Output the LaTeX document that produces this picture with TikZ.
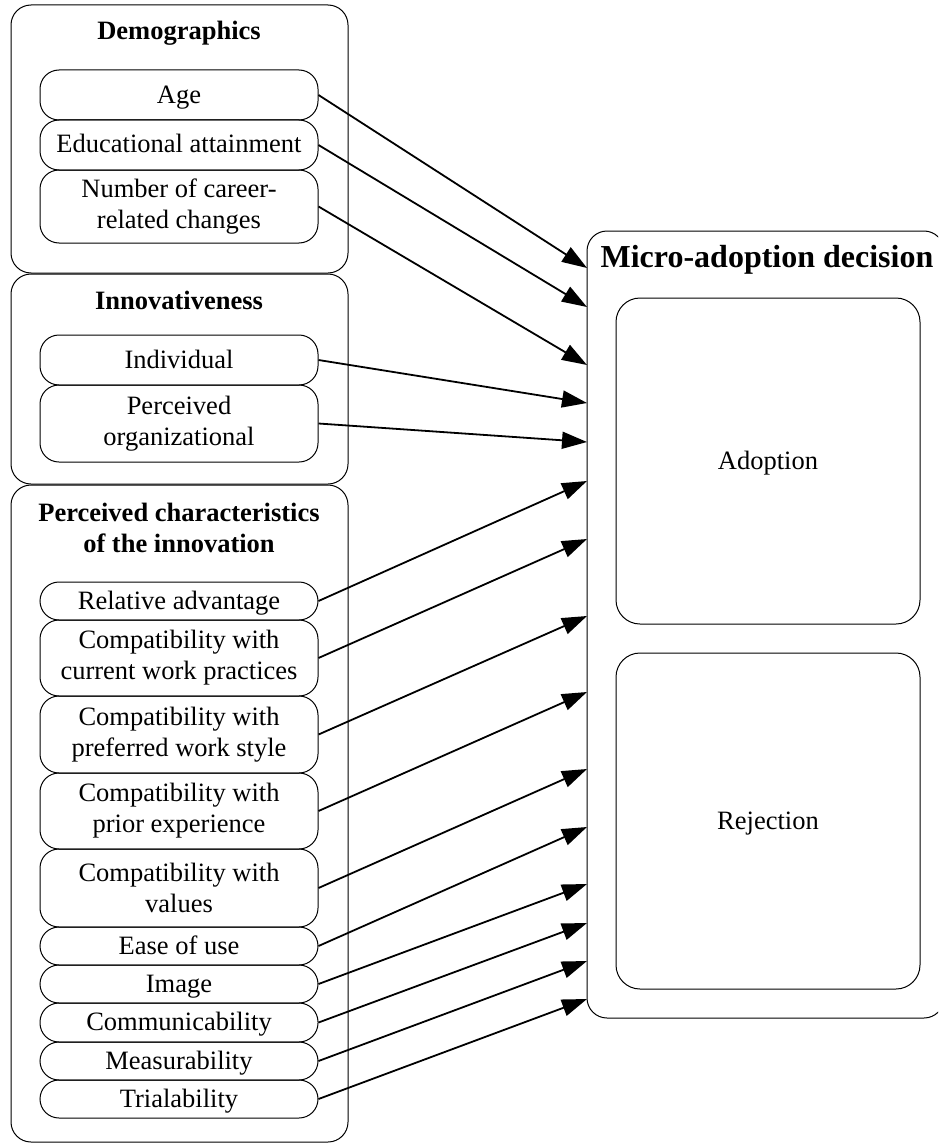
\documentclass[tikz,border=0pt]{standalone}
\usepackage{fontspec}
\setmainfont{Liberation Serif}
\usetikzlibrary{arrows.meta}
\begin{document}
\begin{tikzpicture}[x=1pt,y=-1pt,
  txt/.style={text height=22pt,text depth=6pt},
  outerbox/.style={draw=black,line width=1pt,rounded corners=20pt,minimum width=337pt,inner sep=0pt},
  innerbox/.style={draw=black,line width=1pt,rounded corners=19pt,minimum width=278pt,inner sep=0pt,align=center,
     font=\fontsize{26.5}{31}\selectfont},
  titletext/.style={align=center,inner sep=0pt,font=\fontsize{26.5}{31}\selectfont\bfseries},
  bigbox/.style={draw=black,line width=1pt,rounded corners=24pt,minimum width=304pt,inner sep=0pt,
     font=\fontsize{26.5}{31}\selectfont,txt},
  arr/.style={line width=1.8pt,-{Triangle[length=25pt,width=17pt]}}]
\useasboundingbox (0,0) rectangle (938,1145);
\clip (0,0) rectangle (938,1145);
% outer group boxes
\node[outerbox,minimum height=268pt] (demo) at (179.5,139) {};
\node[outerbox,minimum height=210pt] (innov) at (179.5,379) {};
\node[outerbox,minimum height=657pt] (perc) at (179.5,813.5) {};
\node[titletext,txt] (demoT) at (179,32) {Demographics};
\node[titletext,txt] (innovT) at (179,301) {Innovativeness};
\node[titletext] (percT) at (179,527.5) {Perceived characteristics\\of the innovation};
% inner boxes
\node[innerbox,txt,minimum height=50pt] (age) at (179,95) {Age};
\node[innerbox,txt,minimum height=50pt] (edu) at (179,145) {Educational attainment};
\node[innerbox,minimum height=73pt] (num) at (179,206.5) {Number of career-\\related changes};
\node[innerbox,txt,minimum height=50pt] (ind) at (179,360) {Individual};
\node[innerbox,minimum height=77pt] (porg) at (179,423.5) {Perceived\\organizational};
\node[innerbox,txt,minimum height=38pt] (rel) at (179,601) {Relative advantage};
\node[innerbox,minimum height=76pt] (cur) at (179,658) {Compatibility with\\current work practices};
\node[innerbox,minimum height=77pt] (pref) at (179,734.5) {Compatibility with\\preferred work style};
\node[innerbox,minimum height=76pt] (prior) at (179,811) {Compatibility with\\prior experience};
\node[innerbox,minimum height=78pt] (val) at (179,888) {Compatibility with\\values};
\node[innerbox,txt,minimum height=38pt] (ease) at (179,946) {Ease of use};
\node[innerbox,txt,minimum height=38pt] (img) at (179,984) {Image};
\node[innerbox,txt,minimum height=39pt] (comm) at (179,1022.5) {Communicability};
\node[innerbox,txt,minimum height=38pt] (meas) at (179,1061) {Measurability};
\node[innerbox,txt,minimum height=38pt] (trial) at (179,1099) {Trialability};
% decision box
\node[draw=black,line width=1pt,rounded corners=20pt,minimum width=357pt,minimum height=787pt,inner sep=0pt] (micro) at (765.5,624.5) {};
\node[inner sep=0pt,font=\fontsize{32}{36}\selectfont\bfseries,text height=26.5pt,text depth=7.4pt] (microT) at (767,258) {Micro-adoption decision};
\node[bigbox,minimum height=326pt] (adopt) at (768,461) {Adoption};
\node[bigbox,minimum height=336pt] (rej) at (768,821) {Rejection};
% arrow targets
\coordinate (t1) at (587,268);
\coordinate (t2) at (587,307);
\coordinate (t3) at (587,365);
\coordinate (t4) at (587,403);
\coordinate (t5) at (587,442);
\coordinate (t6) at (587,481);
\coordinate (t7) at (587,539);
\coordinate (t8) at (587,616);
\coordinate (t9) at (587,692);
\coordinate (t10) at (587,769);
\coordinate (t11) at (587,827);
\coordinate (t12) at (587,884);
\coordinate (t13) at (587,923);
\coordinate (t14) at (587,961);
\coordinate (t15) at (587,999);
\draw[arr] (age.east) -- (t1);
\draw[arr] (edu.east) -- (t2);
\draw[arr] (num.east) -- (t3);
\draw[arr] (ind.east) -- (t4);
\draw[arr] (porg.east) -- (t5);
\draw[arr] (rel.east) -- (t6);
\draw[arr] (cur.east) -- (t7);
\draw[arr] (pref.east) -- (t8);
\draw[arr] (prior.east) -- (t9);
\draw[arr] (val.east) -- (t10);
\draw[arr] (ease.east) -- (t11);
\draw[arr] (img.east) -- (t12);
\draw[arr] (comm.east) -- (t13);
\draw[arr] (meas.east) -- (t14);
\draw[arr] (trial.east) -- (t15);
\end{tikzpicture}
\end{document}
